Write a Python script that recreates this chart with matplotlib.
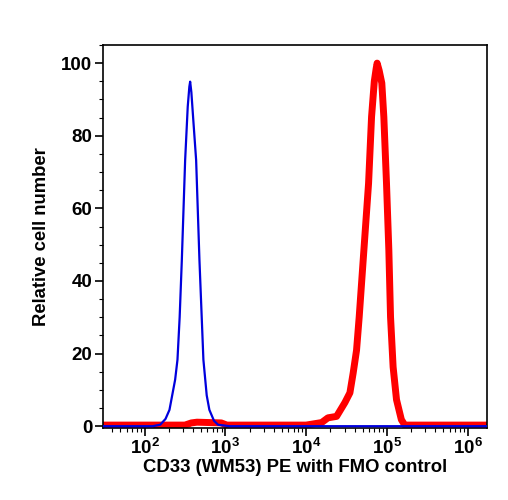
import numpy as np
import matplotlib
matplotlib.use("Agg")
import matplotlib.pyplot as plt
from matplotlib.ticker import MultipleLocator, LogLocator, NullFormatter

plt.rcParams["font.family"] = ["Liberation Sans", "DejaVu Sans"]
plt.rcParams["font.weight"] = "bold"
plt.rcParams["mathtext.fontset"] = "custom"
plt.rcParams["mathtext.rm"] = "Liberation Sans:bold"
plt.rcParams["mathtext.bf"] = "Liberation Sans:bold"
plt.rcParams["mathtext.it"] = "Liberation Sans:bold"

# FMO control (blue), log10 of fluorescence vs relative cell number
fmo_log = [1.49, 2.10, 2.194, 2.26, 2.309, 2.379, 2.408, 2.435, 2.462, 2.503,
           2.535, 2.555, 2.565, 2.58, 2.605, 2.639, 2.68, 2.729, 2.77, 2.803,
           2.86, 2.911, 3.05, 6.25]
fmo_count = [0.0, 0.0, 0.4, 2.0, 4.5, 12.8, 18.3, 30.0, 45.8, 73.3,
             88.0, 93.5, 94.9, 92.0, 84.0, 73.3, 45.8, 18.3, 8.5, 4.5,
             1.5, 0.4, 0.0, 0.0]

# CD33 (WM53) PE stained (red)
cd33_log = [1.49, 2.50, 2.58, 2.65, 2.80, 2.95, 3.02, 4.0, 4.193, 4.271,
            4.378, 4.481, 4.543, 4.583, 4.625, 4.658, 4.716, 4.774, 4.811,
            4.845, 4.868, 4.88, 4.905, 4.938, 4.963, 4.996, 5.025, 5.046,
            5.078, 5.12, 5.18, 5.222, 6.25]
cd33_count = [0.3, 0.3, 0.9, 1.1, 1.0, 0.9, 0.3, 0.3, 1.0, 2.3,
              2.7, 6.5, 9.2, 14.6, 20.9, 30.1, 48.5, 66.9, 85.2,
              95.0, 98.5, 100.0, 98.0, 94.5, 85.2, 66.9, 48.5, 30.1,
              16.3, 7.3, 1.8, 0.3, 0.3]

fig = plt.figure(figsize=(5.08, 5.0), dpi=100)
ax = fig.add_axes([0.2034, 0.144, 0.756, 0.766])

ax.plot(10 ** np.array(cd33_log), cd33_count, color="#ff0000", lw=5,
        solid_joinstyle="round", zorder=2)
ax.plot(10 ** np.array(fmo_log), fmo_count, color="#0000dd", lw=1.6, zorder=3)

ax.set_xscale("log")
ax.set_xlim(10 ** 1.49, 10 ** 6.245)
ax.set_ylim(-0.5, 105)

ax.yaxis.set_major_locator(MultipleLocator(20))
ax.yaxis.set_minor_locator(MultipleLocator(5))
ax.xaxis.set_major_locator(LogLocator(base=10, numticks=10))
ax.xaxis.set_minor_locator(LogLocator(base=10, subs=np.arange(2, 10), numticks=20))
ax.xaxis.set_minor_formatter(NullFormatter())

ax.tick_params(which="major", length=6, width=1.2, labelsize=13.5, pad=2)
ax.tick_params(which="minor", length=3, width=0.8)
ax.tick_params(axis="x", pad=1)
for lab in ax.get_xticklabels() + ax.get_yticklabels():
    lab.set_fontweight("bold")
for sp in ax.spines.values():
    sp.set_linewidth(1.2)

ax.set_xlabel("CD33 (WM53) PE with FMO control", fontsize=13.3,
              fontweight="bold", labelpad=1)
ax.set_ylabel("Relative cell number", fontsize=13.3, fontweight="bold",
              labelpad=8)

fig.savefig("out.png", dpi=100)
